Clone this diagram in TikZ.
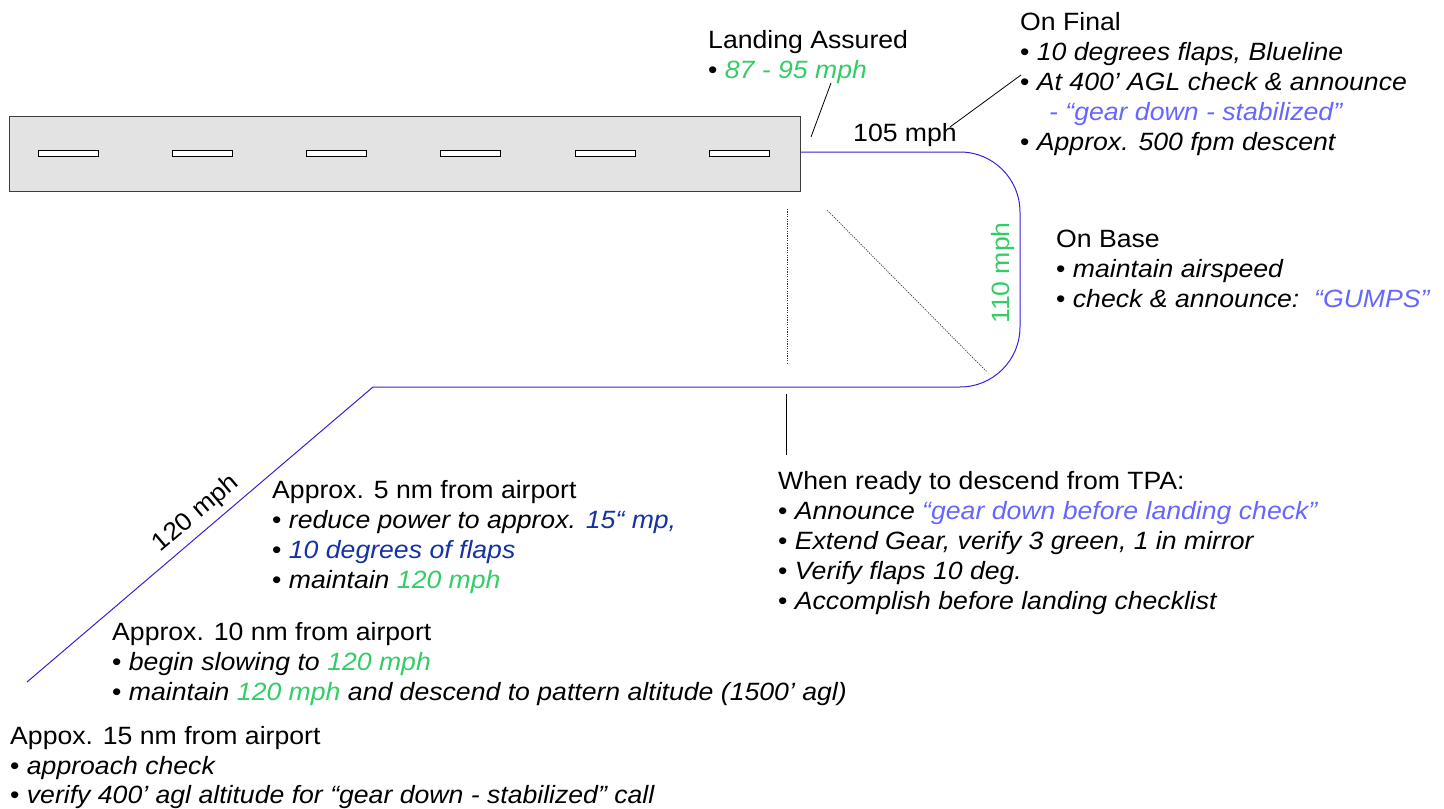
\documentclass[tikz,border=0pt]{standalone}
\usepackage{fontspec}
\setmainfont[FakeStretch=1.065]{Liberation Sans}
\definecolor{spd}{RGB}{51,204,102}
\definecolor{call}{RGB}{102,102,255}
\definecolor{navy}{RGB}{20,50,160}
\definecolor{route}{RGB}{60,30,215}
\definecolor{rwfill}{RGB}{227,227,227}
\definecolor{rwline}{RGB}{60,60,60}
\begin{document}
\begin{tikzpicture}[x=1pt,y=-1pt,
  txt/.style={font=\fontsize{25}{30}\selectfont, anchor=base west, inner sep=0pt},
  runway/.style={draw=rwline, fill=rwfill, line width=1pt, minimum width=791pt, minimum height=75pt, inner sep=0pt},
  stripe/.style={draw=black, fill=white, line width=0.8pt, minimum width=60pt, minimum height=6pt, inner sep=0pt},
  path/.style={draw=route, line width=1pt},
  pointer/.style={draw=black, line width=0.8pt},
  guide/.style={draw=black!80, line width=0.7pt, dash pattern=on 1.2pt off 1.2pt}]
\useasboundingbox (0,0) rectangle (1444,809);

% runway
\node[runway] (rw) at (404.5,153.5) {};
\node[stripe] (s1) at (68,153) {};
\node[stripe] (s2) at (202.5,153) {};
\node[stripe] (s3) at (336.5,153) {};
\node[stripe] (s4) at (470.5,153) {};
\node[stripe] (s5) at (605,153) {};
\node[stripe] (s6) at (739.5,153) {};

% pattern
\coordinate (c1) at (1020,152);
\coordinate (c2) at (1020,387);
\coordinate (c3) at (373,387);
\coordinate (c4) at (27,682);
\draw[path, rounded corners=60pt] (rw.east |- c1) -- (c1) -- (c2) -- (c3);
\draw[path] (c3) -- (c4);

% guides
\coordinate (g1) at (787,209);
\coordinate (g2) at (787,364);
\coordinate (g3) at (827,210);
\coordinate (g4) at (987,372);
\draw[guide] (g1) -- (g2);
\draw[guide] (g3) -- (g4);

% pointers
\coordinate (p1) at (831,83);
\coordinate (p2) at (811,137);
\draw[pointer] (p1) -- (p2);
\coordinate (p3) at (1021,75);
\coordinate (p4) at (950,127);
\draw[pointer] (p3) -- (p4);
\coordinate (p5) at (786,394);
\coordinate (p6) at (786,455);
\draw[pointer] (p5) -- (p6);

% Landing assured
\node[txt] (la1) at (708,48) {Landing Assured};
\node[txt] (la2) at (708,78) {• \textit{\color{spd}87 - 95 mph}};

% On final
\node[txt] (of1) at (1020,30) {On Final};
\node[txt] (of2) at (1020,60) {• \textit{10 degrees flaps, Blueline}};
\node[txt] (of3) at (1020,90) {• \textit{At 400’ AGL check \& announce}};
\node[txt, text=call] (of4) at (1049,120) {\textit{- “gear down - stabilized”}};
\node[txt] (of5) at (1020,150) {• \textit{Approx. 500 fpm descent}};

\node[txt] (v105) at (853,141) {105 mph};
\node[font=\fontsize{25}{30}\selectfont, text=spd, inner sep=0pt, rotate=90] (v110) at (1003,273) {110 mph};
\node[font=\fontsize{25}{30}\selectfont, inner sep=0pt, rotate=40.4] (v120) at (196,514) {120 mph};

% On base
\node[txt] (ob1) at (1056,247) {On Base};
\node[txt] (ob2) at (1056,277) {• \textit{maintain airspeed}};
\node[txt] (ob3) at (1056,307) {• \textit{check \& announce:\ \ \color{call}“GUMPS”}};

% TPA
\node[txt] (tp1) at (778,489) {When ready to descend from TPA:};
\node[txt] (tp2) at (778,519) {• \textit{Announce \color{call}“gear down before landing check”}};
\node[txt] (tp3) at (778,549) {• \textit{Extend Gear, verify 3 green, 1 in mirror}};
\node[txt] (tp4) at (778,579) {• \textit{Verify flaps 10 deg.}};
\node[txt] (tp5) at (778,609) {• \textit{Accomplish before landing checklist}};

% 5 nm
\node[txt] (f1) at (272,498) {Approx. 5 nm from airport};
\node[txt] (f2) at (272,528) {• \textit{reduce power to approx. \color{navy}15“ mp,}};
\node[txt] (f3) at (272,558) {• \textit{\color{navy}10 degrees of flaps}};
\node[txt] (f4) at (272,588) {• \textit{maintain \color{spd}120 mph}};

% 10 nm
\node[txt] (t1) at (112,640) {Approx. 10 nm from airport};
\node[txt] (t2) at (112,670) {• \textit{begin slowing to \color{spd}120 mph}};
\node[txt] (t3) at (112,700) {• \textit{maintain {\color{spd}120 mph} and descend to pattern altitude (1500’ agl)}};

% 15 nm
\node[txt] (q1) at (10,744) {Appox. 15 nm from airport};
\node[txt] (q2) at (10,774) {• \textit{approach check}};
\node[txt] (q3) at (10,803) {• \textit{verify 400’ agl altitude for “gear down - stabilized” call}};
\end{tikzpicture}
\end{document}
